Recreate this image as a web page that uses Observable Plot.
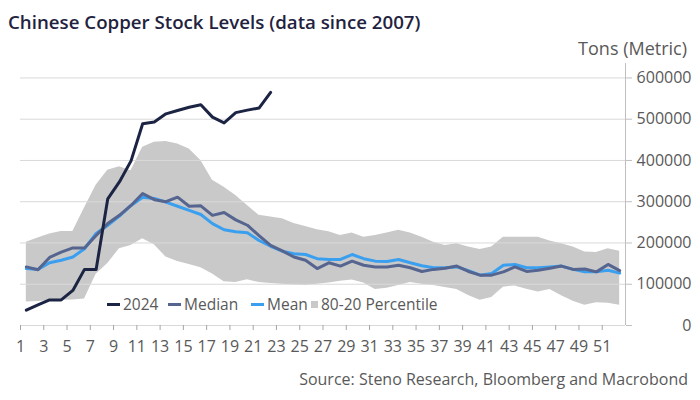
<!DOCTYPE html>
<html><head><meta charset="utf-8">
<script src="https://cdn.jsdelivr.net/npm/d3@7"></script>
<script src="https://cdn.jsdelivr.net/npm/@observablehq/plot@0.6"></script>
<style>
body{margin:0;background:#fff;font-family:"Open Sans",sans-serif;}
#wrap{position:relative;width:700px;height:400px;overflow:hidden;}
#chart{position:absolute;left:0;top:0;}
#title{position:absolute;left:8px;top:9px;font-size:18.7px;font-weight:600;color:#1f2340;white-space:nowrap;}
#unit{position:absolute;right:13px;top:36px;font-size:18px;color:#595959;white-space:nowrap;}
#source{position:absolute;right:12px;top:368px;font-size:16px;color:#595959;white-space:nowrap;}
.lg{position:absolute;top:293px;height:22px;display:flex;align-items:center;font-size:15.5px;color:#595959;white-space:nowrap;}
.dash{display:inline-block;width:13px;height:3px;margin-right:3px;}
.sq{display:inline-block;width:7px;height:7px;margin-right:3px;background:#c9c9c9;}
</style></head><body>
<div id="wrap">
  <div id="chart"></div>
  <div id="title">Chinese Copper Stock Levels (data since 2007)</div>
  <div id="unit">Tons (Metric)</div>
  <div class="lg" style="left:107px"><span class="dash" style="background:#1c2444"></span>2024</div>
  <div class="lg" style="left:168px"><span class="dash" style="background:#55658f"></span>Median</div>
  <div class="lg" style="left:251px"><span class="dash" style="background:#3b9ff0"></span>Mean</div>
  <div class="lg" style="left:311px"><span class="sq"></span>80-20 Percentile</div>
  <div id="source">Source: Steno Research, Bloomberg and Macrobond</div>
</div>
<script>
// Week numbers (categories)
const weeks = d3.range(1, 53);
// 2024 stock levels (tons), weeks 1-22
const y2024 = [37000,50000,62000,62000,85000,136000,136000,307000,348000,399000,489000,493000,513000,521000,529000,535000,505000,491000,516000,522000,527000,565000];
// Median since 2007
const median = [142000,135000,165000,178000,188000,188000,218000,247000,267000,291000,320000,305000,300000,311000,289000,290000,267000,274000,256000,243000,218000,194000,181000,166000,158000,138000,152000,144000,156000,146000,142000,142000,146000,140000,131000,136000,139000,144000,131000,122000,122000,130000,142000,131000,134000,139000,144000,136000,137000,130000,148000,133000];
// Mean since 2007
const mean = [138000,136000,152000,158000,166000,186000,223000,243000,265000,291000,311000,308000,299000,289000,279000,269000,247000,232000,227000,225000,206000,192000,180000,174000,172000,162000,160000,160000,172000,162000,156000,155000,160000,152000,145000,140000,140000,142000,133000,122000,126000,146000,148000,140000,140000,142000,144000,136000,130000,130000,134000,127000];
// 80th percentile
const p80 = [202000,212000,222000,228000,228000,285000,340000,376000,385000,375000,432000,444000,446000,440000,428000,400000,352000,335000,315000,291000,267000,263000,259000,247000,240000,232000,227000,218000,224000,214000,218000,224000,231000,224000,214000,202000,194000,198000,190000,184000,190000,214000,214000,214000,214000,205000,198000,190000,178000,177000,186000,180000];
// 20th percentile
const p20 = [57000,58000,60000,61000,62000,64000,124000,150000,186000,194000,210000,196000,166000,155000,148000,140000,125000,106000,104000,111000,104000,102000,100000,98000,97000,100000,103000,107000,110000,103000,87000,90000,97000,104000,100000,97000,92000,87000,73000,61000,68000,93000,96000,88000,81000,87000,72000,59000,49000,55000,54000,49000];
// Axis tick labels
const xTickLabels = [1,3,5,7,9,11,13,15,17,19,21,23,25,27,29,31,33,35,37,39,41,43,45,47,49,51];
const yTicks = [0,100000,200000,300000,400000,500000,600000];

const band = weeks.map((w,i)=>({week:w, lo:p20[i], hi:p80[i]}));
const medData = weeks.map((w,i)=>({week:w, v:median[i]}));
const meanData = weeks.map((w,i)=>({week:w, v:mean[i]}));
const curData = y2024.map((v,i)=>({week:weeks[i], v}));
const xTickPos = xTickLabels.map(d=>d-0.5);

const chart = Plot.plot({
  width:700, height:400,
  marginLeft:20, marginRight:75, marginTop:63, marginBottom:75,
  x:{domain:[0.5,52.5]},
  y:{domain:[0,635000]},
  style:{fontFamily:"Open Sans, sans-serif", fontSize:"16px", color:"#595959", background:"transparent", overflow:"visible"},
  marks:[
    Plot.areaY(band,{x:"week", y1:"lo", y2:"hi", fill:"#c9c9c9"}),
    Plot.gridY(yTicks,{stroke:"#d9d9d9", strokeOpacity:1}),
    Plot.ruleX([52.5],{y1:0, y2:635000, stroke:"#bfbfbf"}),
    Plot.axisY(yTicks,{anchor:"right", tickSize:6, fill:"none", stroke:"#bfbfbf", label:null}),
    Plot.axisY(yTicks,{anchor:"right", tickSize:0, tickPadding:0, textAnchor:"end", dx:66, fill:"#595959", fontSize:16, tickFormat:d=>String(d), label:null}),
    Plot.axisX(xTickPos,{anchor:"bottom", tickSize:5, tickPadding:10, stroke:"#a6a6a6", fill:"#595959", fontSize:16, tickFormat:d=>String(d+0.5), label:null}),
    Plot.lineY(meanData,{x:"week", y:"v", stroke:"#3b9ff0", strokeWidth:3}),
    Plot.lineY(medData,{x:"week", y:"v", stroke:"#55658f", strokeWidth:3}),
    Plot.lineY(curData,{x:"week", y:"v", stroke:"#1c2444", strokeWidth:3})
  ]
});
document.getElementById("chart").appendChild(chart);
</script>
</body></html>
